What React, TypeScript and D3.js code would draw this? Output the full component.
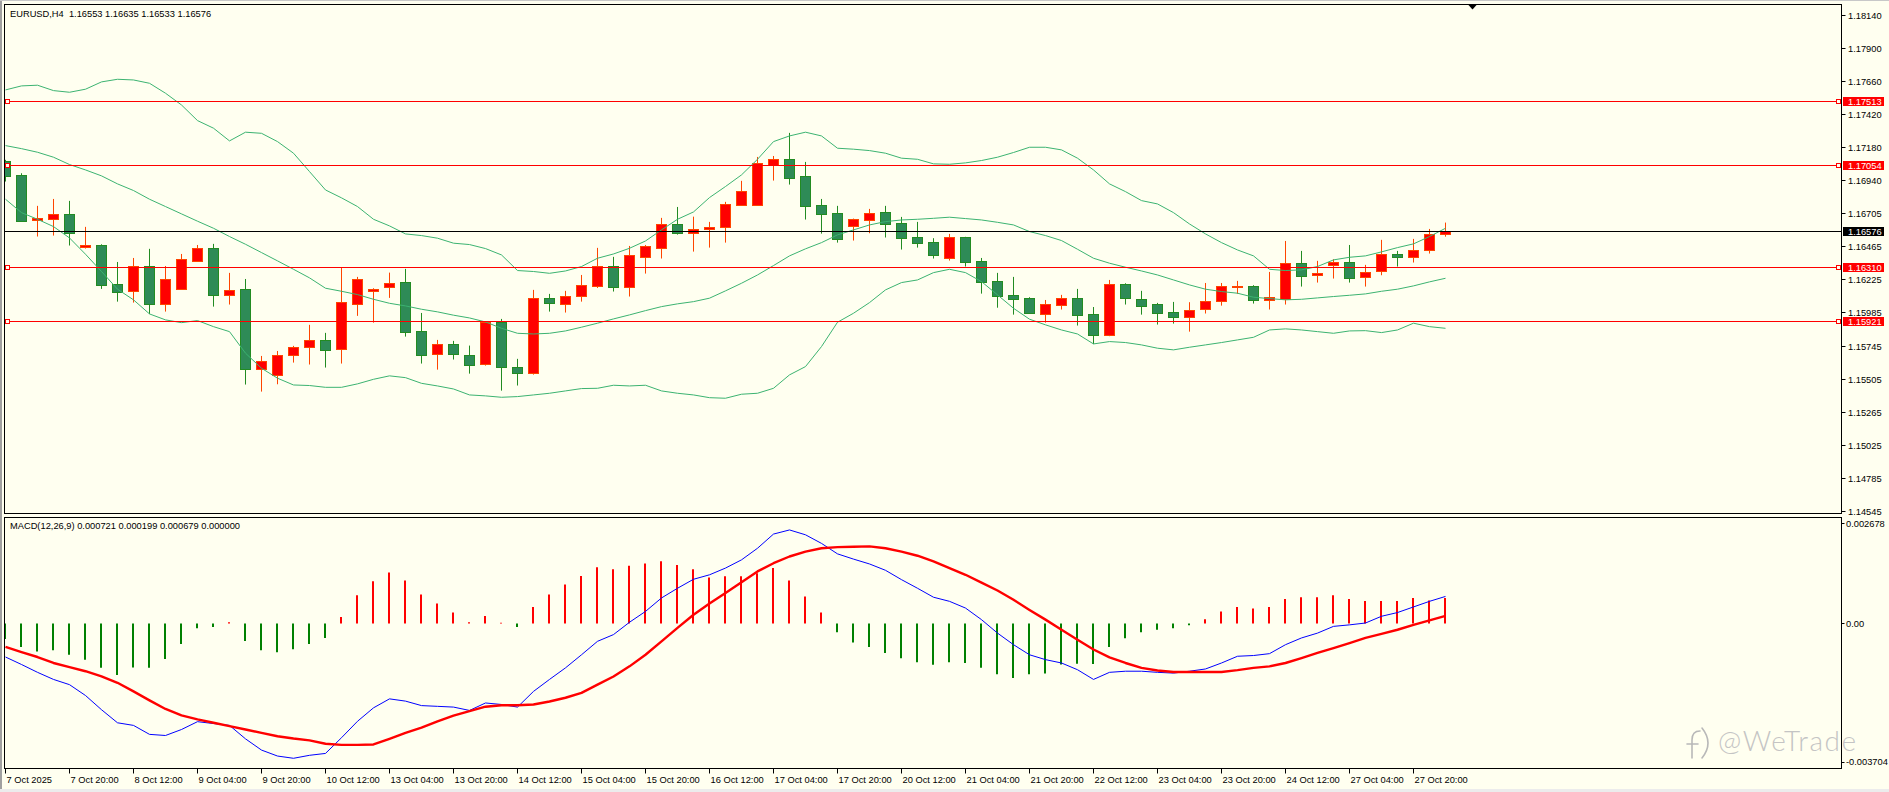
import React from "react";
import * as d3 from "d3";

const WIDTH = 1889;
const HEIGHT = 792;
const FONT = "'Liberation Sans', Arial, sans-serif";
const BG = "#fffff0";

// x axis labels, one every 4 bars (H4)
const timeLabels = [
  "7 Oct 2025", "7 Oct 20:00", "8 Oct 12:00", "9 Oct 04:00", "9 Oct 20:00", "10 Oct 12:00",
  "13 Oct 04:00", "13 Oct 20:00", "14 Oct 12:00", "15 Oct 04:00", "15 Oct 20:00", "16 Oct 12:00",
  "17 Oct 04:00", "17 Oct 20:00", "20 Oct 12:00", "21 Oct 04:00", "21 Oct 20:00", "22 Oct 12:00",
  "23 Oct 04:00", "23 Oct 20:00", "24 Oct 12:00", "27 Oct 04:00", "27 Oct 20:00",
];
const priceTicks = [
  "1.18140", "1.17900", "1.17660", "1.17420", "1.17180", "1.16940", "1.16705", "1.16465",
  "1.16225", "1.15985", "1.15745", "1.15505", "1.15265", "1.15025", "1.14785", "1.14545",
];
const macdTicks = ["0.002678", "0.00", "-0.003704"];

const levelLines = [1.17513, 1.17054, 1.1631, 1.15921];
const bidPrice = 1.16576;

// EURUSD H4, 7 Oct 04:00 .. 28 Oct 04:00
const opens = [
  1.17079, 1.16978, 1.16652, 1.16664, 1.16695, 1.16461, 1.16473, 1.16191, 1.16143, 1.16319,
  1.16049, 1.16157, 1.1636, 1.16449, 1.16114, 1.16153, 1.15579, 1.1553, 1.15675, 1.15733,
  1.15784, 1.15718, 1.16049, 1.16138, 1.16167, 1.16203, 1.15849, 1.15682, 1.15755, 1.15675,
  1.1561, 1.15916, 1.15588, 1.1555, 1.16088, 1.16044, 1.16102, 1.16179, 1.16319, 1.16172,
  1.16389, 1.16454, 1.16623, 1.16558, 1.16587, 1.16601, 1.16765, 1.16765, 1.17055, 1.17093,
  1.1697, 1.1676, 1.16703, 1.16609, 1.16657, 1.1671, 1.1663, 1.16529, 1.16493, 1.16382,
  1.16529, 1.16355, 1.16211, 1.16109, 1.16088, 1.15972, 1.16042, 1.16088, 1.15972, 1.15825,
  1.16189, 1.1608, 1.16044, 1.15986, 1.15955, 1.16008, 1.16066, 1.16172, 1.16174, 1.16073,
  1.16085, 1.16341, 1.16254, 1.16326, 1.16348, 1.16244, 1.16283, 1.16406, 1.16384, 1.16435,
  1.16553,
];
const highs = [
  1.17089, 1.16992, 1.16756, 1.16806, 1.16792, 1.16604, 1.16478, 1.1635, 1.16379, 1.16445,
  1.16321, 1.16408, 1.16473, 1.16481, 1.16271, 1.16227, 1.1567, 1.15706, 1.15743, 1.15895,
  1.15837, 1.16312, 1.16242, 1.1616, 1.16273, 1.163, 1.15981, 1.15786, 1.15779, 1.15745,
  1.15921, 1.15938, 1.15649, 1.16148, 1.16119, 1.16141, 1.16256, 1.16452, 1.16387, 1.16466,
  1.16473, 1.16669, 1.16748, 1.16678, 1.1664, 1.16785, 1.16937, 1.1711, 1.17117, 1.17284,
  1.17074, 1.16806, 1.16756, 1.16664, 1.16734, 1.16756, 1.16676, 1.1664, 1.16522, 1.16553,
  1.16532, 1.16379, 1.16271, 1.16242, 1.16095, 1.16075, 1.16112, 1.16155, 1.16024, 1.1622,
  1.16196, 1.16141, 1.16054, 1.16061, 1.16059, 1.16198, 1.16198, 1.16213, 1.16182, 1.16278,
  1.16502, 1.1643, 1.16358, 1.1637, 1.16473, 1.16329, 1.1651, 1.1643, 1.16517, 1.16589,
  1.16635,
];
const lows = [
  1.16932, 1.16642, 1.16534, 1.16541, 1.16469, 1.16447, 1.16155, 1.16063, 1.16056, 1.15974,
  1.15991, 1.16155, 1.16358, 1.16027, 1.16042, 1.15463, 1.15412, 1.15465, 1.15622, 1.15608,
  1.15586, 1.15615, 1.1596, 1.15911, 1.1609, 1.1581, 1.15615, 1.15571, 1.15644, 1.15542,
  1.156, 1.15419, 1.15456, 1.15535, 1.15991, 1.15984, 1.16063, 1.16162, 1.16136, 1.161,
  1.16266, 1.16375, 1.16548, 1.16425, 1.16454, 1.1649, 1.16756, 1.16762, 1.16939, 1.1691,
  1.16657, 1.16555, 1.1649, 1.16505, 1.16558, 1.16527, 1.1644, 1.16454, 1.16375, 1.1636,
  1.16317, 1.16121, 1.16019, 1.15969, 1.15979, 1.15911, 1.16006, 1.1589, 1.15757, 1.15813,
  1.16042, 1.15969, 1.15897, 1.15904, 1.15846, 1.15977, 1.16034, 1.16119, 1.16049, 1.16006,
  1.16042, 1.16172, 1.16201, 1.1623, 1.16201, 1.16172, 1.16254, 1.16317, 1.16346, 1.16411,
  1.16533,
];
const closes = [
  1.16975, 1.1665, 1.16669, 1.16695, 1.16558, 1.16473, 1.16186, 1.16136, 1.16319, 1.16049,
  1.16225, 1.1637, 1.16449, 1.16114, 1.16145, 1.15579, 1.15632, 1.15675, 1.15733, 1.15784,
  1.15716, 1.16059, 1.16225, 1.16153, 1.16196, 1.15846, 1.1568, 1.15755, 1.15687, 1.15603,
  1.15916, 1.15588, 1.1555, 1.16088, 1.16056, 1.16102, 1.16182, 1.16319, 1.16172, 1.16399,
  1.16464, 1.16623, 1.16558, 1.16587, 1.16601, 1.16768, 1.16862, 1.17064, 1.17093, 1.16961,
  1.16758, 1.167, 1.16514, 1.16659, 1.16703, 1.16628, 1.16527, 1.1649, 1.16403, 1.16529,
  1.16353, 1.16208, 1.16107, 1.16085, 1.15984, 1.16044, 1.16088, 1.15969, 1.15825, 1.16189,
  1.16092, 1.16034, 1.15984, 1.15955, 1.16001, 1.16066, 1.16174, 1.16177, 1.16073, 1.16095,
  1.16341, 1.16252, 1.16268, 1.1635, 1.16237, 1.16276, 1.16406, 1.16384, 1.16435, 1.16551,
  1.16576,
];

// Bollinger bands
const bbUpper = [
  1.17595, 1.17624, 1.17629, 1.1759, 1.17578, 1.176, 1.17653, 1.17672, 1.17667, 1.17643,
  1.17571, 1.17486, 1.17373, 1.17318, 1.17226, 1.17289, 1.17281, 1.17221, 1.17137, 1.17004,
  1.16871, 1.16814, 1.16751, 1.16659, 1.16611, 1.16553, 1.16541, 1.16522, 1.16486, 1.16476,
  1.16447, 1.16401, 1.16288, 1.16281, 1.16268, 1.16285, 1.16317, 1.16377, 1.16408, 1.16449,
  1.16502, 1.16582, 1.16659, 1.16712, 1.16816, 1.16896, 1.1698, 1.17093, 1.17221, 1.17262,
  1.17289, 1.17262, 1.17173, 1.17166, 1.17156, 1.17137, 1.17101, 1.17093, 1.1706, 1.17057,
  1.17067, 1.17084, 1.17108, 1.17142, 1.1718, 1.1718, 1.17161, 1.17101, 1.17016, 1.16915,
  1.16859, 1.16794, 1.1677, 1.16707, 1.16625, 1.16553, 1.1649, 1.16437, 1.16394, 1.16297,
  1.16288, 1.16293, 1.16317, 1.16365, 1.16384, 1.16394, 1.16423, 1.16454, 1.16481, 1.16534,
  1.16594,
];
const bbMiddle = [
  1.17192, 1.1717, 1.17144, 1.17108, 1.17055, 1.17016, 1.16973, 1.16915, 1.16867, 1.16804,
  1.16751, 1.16698, 1.16645, 1.16594, 1.16534, 1.16478, 1.16418, 1.16358, 1.16297, 1.16235,
  1.1616, 1.16138, 1.16114, 1.1608, 1.16051, 1.16032, 1.16008, 1.15989, 1.15965, 1.15945,
  1.15916, 1.1587, 1.15834, 1.15829, 1.15834, 1.15851, 1.15878, 1.15907, 1.15938, 1.15967,
  1.15998, 1.16027, 1.16047, 1.16063, 1.16088, 1.16141, 1.16196, 1.16256, 1.16324, 1.16394,
  1.16445, 1.1649, 1.16546, 1.16582, 1.16618, 1.16642, 1.16654, 1.16659, 1.16666, 1.16674,
  1.16664, 1.16654, 1.16637, 1.16618, 1.1657, 1.16541, 1.16505, 1.16442, 1.16377, 1.16341,
  1.16312, 1.16285, 1.16256, 1.1622, 1.16184, 1.16153, 1.16136, 1.16124, 1.16095, 1.16085,
  1.16076, 1.1608, 1.1609, 1.161, 1.16109, 1.16119, 1.16138, 1.16153, 1.16177, 1.16206,
  1.16232,
];
const bbLower = [
  1.16804, 1.16707, 1.16659, 1.16606, 1.16524, 1.16406, 1.16281, 1.16153, 1.16076, 1.15974,
  1.15931, 1.15911, 1.15926, 1.15882, 1.15846, 1.1569, 1.15581, 1.15509, 1.1546, 1.15456,
  1.15443, 1.15443, 1.15468, 1.15501, 1.15526, 1.15513, 1.15472, 1.15453, 1.15431, 1.15388,
  1.15381, 1.15371, 1.15376, 1.15388, 1.154, 1.15417, 1.15434, 1.15436, 1.15458, 1.15453,
  1.15458, 1.15417, 1.154, 1.15388, 1.15368, 1.15364, 1.15393, 1.154, 1.15436, 1.15533,
  1.15593, 1.15738, 1.15914, 1.15979, 1.16056, 1.16148, 1.16201, 1.1622, 1.16273, 1.16297,
  1.16273, 1.16208, 1.16112, 1.16015, 1.15936, 1.15895, 1.15858, 1.15829, 1.15757, 1.15774,
  1.15767, 1.1575, 1.15726, 1.15714, 1.15733, 1.1575, 1.15767, 1.15786, 1.15805, 1.15858,
  1.15866, 1.15858, 1.15846, 1.15834, 1.15851, 1.15853, 1.15839, 1.15858, 1.15907, 1.15882,
  1.1587,
];

// MACD(12,26,9)
const macdHist = [
  -0.00042, -0.00063, -0.00075, -0.00072, -0.00084, -0.00097, -0.00119, -0.00138, -0.00118, -0.00119,
  -0.00095, -0.00055, -0.00013, -0.0001, 0.00003, -0.00047, -0.00072, -0.00077, -0.00069, -0.00055,
  -0.00039, 0.00017, 0.00075, 0.00113, 0.00136, 0.00115, 0.00077, 0.00053, 0.00029, 0.00003,
  0.0002, 0.00002, -0.0001, 0.00044, 0.00077, 0.00104, 0.00127, 0.0015, 0.00145, 0.00154,
  0.0016, 0.00166, 0.00156, 0.00145, 0.00123, 0.00126, 0.00126, 0.00134, 0.00148, 0.00115,
  0.00072, 0.00029, -0.00024, -0.00051, -0.00063, -0.00079, -0.00093, -0.00104, -0.00111, -0.00104,
  -0.00106, -0.00119, -0.00136, -0.00146, -0.00136, -0.00134, -0.0011, -0.00108, -0.00109, -0.00063,
  -0.0004, -0.00024, -0.00017, -0.00013, -0.00005, 0.00011, 0.00032, 0.00044, 0.0004, 0.00044,
  0.00065, 0.0007, 0.0007, 0.00075, 0.00065, 0.0006, 0.0006, 0.0006, 0.00068, 0.00061,
  0.000679,
];
const macdMain = [
  -0.0009, -0.0011, -0.00131, -0.0015, -0.00164, -0.00193, -0.00231, -0.00266, -0.00273, -0.00297,
  -0.003, -0.00284, -0.00263, -0.00268, -0.00273, -0.00309, -0.00339, -0.00355, -0.00361, -0.00353,
  -0.00348, -0.00306, -0.00262, -0.00226, -0.00202, -0.00208, -0.0022, -0.00222, -0.00224, -0.00233,
  -0.00213, -0.00217, -0.00224, -0.00182, -0.0015, -0.00119, -0.00084, -0.00048, -0.0003, 0.00003,
  0.00032, 0.00068, 0.00094, 0.00118, 0.0013, 0.00148, 0.0017, 0.00201, 0.00239, 0.0025,
  0.00237, 0.00214, 0.00186, 0.00172, 0.00159, 0.00142, 0.00117, 0.00094, 0.0007, 0.00059,
  0.00041, 0.0001, -0.00026, -0.00057, -0.00084, -0.00097, -0.00106, -0.00124, -0.0015, -0.00131,
  -0.00128, -0.00128, -0.00131, -0.00133, -0.00128, -0.00122, -0.00106, -0.00088, -0.00086, -0.00081,
  -0.00057, -0.00039, -0.00026, -0.00008, -0.00004, 0.00001, 0.00019, 0.00029, 0.00044, 0.00059,
  0.000721,
];
const macdSignal = [
  -0.00063, -0.00077, -0.0009, -0.00106, -0.00117, -0.00128, -0.00142, -0.00159, -0.00182, -0.00206,
  -0.00229, -0.00246, -0.00257, -0.00266, -0.00275, -0.00284, -0.00293, -0.00302, -0.00308, -0.00313,
  -0.00322, -0.00325, -0.00325, -0.00324, -0.00309, -0.00293, -0.00279, -0.00262, -0.00247, -0.00235,
  -0.00223, -0.00219, -0.00219, -0.00217, -0.00209, -0.00199, -0.00186, -0.00164, -0.00142, -0.00115,
  -0.00084, -0.00048, -0.00012, 0.00023, 0.00053, 0.00081, 0.0011, 0.00139, 0.00161, 0.00179,
  0.00192, 0.00201, 0.00204, 0.00205, 0.00206, 0.00201, 0.00192, 0.00181, 0.00166, 0.00148,
  0.0013, 0.00109, 0.00088, 0.00063, 0.00036, 0.0001, -0.00017, -0.00044, -0.0007, -0.00091,
  -0.00106, -0.00119, -0.00126, -0.0013, -0.0013, -0.0013, -0.0013, -0.00125, -0.00119, -0.00115,
  -0.00106, -0.00093, -0.00079, -0.00066, -0.00053, -0.00039, -0.00028, -0.00017, -0.00004, 0.00008,
  0.000199,
];

const frame = {
  left: 4.5,
  right: 1841.5,
  mainTop: 4.5,
  mainBottom: 513.5,
  macdTop: 517.5,
  macdBottom: 768.5,
};

const x = d3.scaleLinear().domain([0, 1]).range([5.5, 21.5]);
const y = d3.scaleLinear().domain([1.1453, 1.18213]).range([frame.mainBottom, frame.mainTop]);
const ym = d3.scaleLinear().domain([-0.003704, 0.002678]).range([761.8, 523.3]);

const priceLine = d3.line<number>().x((_, i) => x(i)).y((d) => y(d));
const macdLine = d3.line<number>().x((_, i) => x(i)).y((d) => ym(d));

const crisp = (v: number) => Math.round(v) + 0.5;
const last = closes.length - 1;

export default function App() {
  const title = `EURUSD,H4  ${opens[last].toFixed(5)} ${highs[last].toFixed(5)} ${lows[last].toFixed(5)} ${closes[last].toFixed(5)}`;
  const macdTitle = `MACD(12,26,9) ${macdMain[last].toFixed(6)} ${macdSignal[last].toFixed(6)} ${macdHist[last].toFixed(6)} 0.000000`;
  const triX = x(last) + 27;

  return (
    <div style={{ position: "fixed", left: 0, top: 0 }}>
      <svg width={WIDTH} height={HEIGHT} style={{ display: "block", fontFamily: FONT }}>
        <defs>
          <clipPath id="mainClip">
            <rect x={frame.left} y={frame.mainTop} width={frame.right - frame.left} height={frame.mainBottom - frame.mainTop} />
          </clipPath>
          <clipPath id="macdClip">
            <rect x={frame.left} y={frame.macdTop} width={frame.right - frame.left} height={frame.macdBottom - frame.macdTop} />
          </clipPath>
        </defs>
        <rect width={WIDTH} height={HEIGHT} fill={BG} />
        <rect x={0} y={0} width={2} height={HEIGHT} fill="#a0a0a0" />
        <rect x={0} y={0} width={WIDTH} height={1} fill="#c8c8c8" />
        <rect x={0} y={789} width={WIDTH} height={3} fill="#ececec" />

        {/* main chart */}
        <g clipPath="url(#mainClip)">
          {opens.map((o, i) => {
            const c = closes[i];
            const up = c >= o;
            const cx = x(i);
            const yTop = crisp(y(Math.max(o, c)));
            let yBot = crisp(y(Math.min(o, c)));
            if (yBot - yTop < 1) yBot = yTop + 1;
            const edge = up ? "#ff4500" : "#228b22";
            return (
              <g key={i}>
                <line x1={cx} x2={cx} y1={y(highs[i])} y2={y(lows[i])} stroke={edge} strokeWidth={1} />
                <rect x={cx - 5} y={yTop} width={10} height={yBot - yTop} fill={up ? "#ff0000" : "#2e8b57"} stroke={edge} strokeWidth={1} />
              </g>
            );
          })}
          {[bbUpper, bbMiddle, bbLower].map((band, k) => (
            <path key={k} d={priceLine(band) || ""} fill="none" stroke="#3cb371" strokeWidth={1} />
          ))}
          {levelLines.map((p) => (
            <g key={p}>
              <line x1={frame.left} x2={frame.right} y1={crisp(y(p))} y2={crisp(y(p))} stroke="#ff0000" strokeWidth={1} />
              <rect x={5.5} y={crisp(y(p)) - 2} width={4} height={4} fill={BG} stroke="#ff0000" />
              <rect x={1836.5} y={crisp(y(p)) - 2} width={4} height={4} fill={BG} stroke="#ff0000" />
            </g>
          ))}
          <line x1={frame.left} x2={frame.right} y1={crisp(y(bidPrice))} y2={crisp(y(bidPrice))} stroke="#000" strokeWidth={1} />
          <path d={`M${triX - 4.5},${frame.mainTop} L${triX + 4.5},${frame.mainTop} L${triX},${frame.mainTop + 5} Z`} fill="#000" />
        </g>
        <rect x={frame.left} y={frame.mainTop} width={frame.right - frame.left} height={frame.mainBottom - frame.mainTop} fill="none" stroke="#000" />
        <text x={10} y={16.5} fontSize={9.3} fill="#000" style={{ whiteSpace: "pre" }}>{title}</text>

        {/* price axis */}
        {priceTicks.map((t) => {
          const ty = crisp(y(+t));
          return (
            <g key={t}>
              <line x1={frame.right} x2={frame.right + 4} y1={ty} y2={ty} stroke="#000" />
              <text x={1848} y={ty + 3.3} fontSize={9.3} fill="#000">{t}</text>
            </g>
          );
        })}
        {levelLines.map((p) => (
          <g key={p}>
            <rect x={1843} y={crisp(y(p)) - 4.5} width={41} height={9} fill="#ff0000" />
            <text x={1848} y={crisp(y(p)) + 3.3} fontSize={9.3} fill="#fff">{p.toFixed(5)}</text>
          </g>
        ))}
        <rect x={1843} y={crisp(y(bidPrice)) - 4.5} width={41} height={9} fill="#000" />
        <text x={1848} y={crisp(y(bidPrice)) + 3.3} fontSize={9.3} fill="#fff">{bidPrice.toFixed(5)}</text>

        {/* MACD window */}
        <g clipPath="url(#macdClip)">
          {macdHist.map((h, i) => (
            <line
              key={i}
              x1={Math.floor(x(i))}
              x2={Math.floor(x(i))}
              y1={ym(0)}
              y2={ym(h)}
              stroke={h >= 0 ? "#ff0000" : "#008000"}
              strokeWidth={2}
            />
          ))}
          <path d={macdLine(macdMain) || ""} fill="none" stroke="#0000ff" strokeWidth={1} />
          <path d={macdLine(macdSignal) || ""} fill="none" stroke="#ff0000" strokeWidth={2.4} strokeLinejoin="round" />
        </g>
        <rect x={frame.left} y={frame.macdTop} width={frame.right - frame.left} height={frame.macdBottom - frame.macdTop} fill="none" stroke="#000" />
        <text x={10} y={528.5} fontSize={9.3} fill="#000">{macdTitle}</text>
        {macdTicks.map((t) => {
          const ty = ym(+t);
          return (
            <g key={t}>
              <line x1={frame.right} x2={frame.right + 3} y1={crisp(ty)} y2={crisp(ty)} stroke="#000" />
              <text x={1846} y={ty + 3.3} fontSize={9.3} fill="#000">{t}</text>
            </g>
          );
        })}

        {/* time axis */}
        {timeLabels.map((t, k) => {
          const tx = Math.floor(x(k * 4)) + 0.5;
          return (
            <g key={t}>
              <line x1={tx} x2={tx} y1={frame.macdBottom} y2={frame.macdBottom + 5} stroke="#000" />
              <text x={tx + 1} y={783} fontSize={9.3} fill="#000">{t}</text>
            </g>
          );
        })}

        {/* watermark */}
        <g fill="none" stroke="#b8b8b8" strokeWidth={1.6} strokeLinecap="round">
          <path d="M1692,758 L1692,740 Q1692,731 1700,731" />
          <path d="M1687,744 L1698,744" />
          <path d="M1702,728 Q1714,743 1702,758" />
        </g>
        <text x={1718} y={751} fontSize={28} letterSpacing={1.5} fontFamily="Lato, 'Open Sans', sans-serif" fontWeight={300} fill="#c4c4c4">@WeTrade</text>
      </svg>
    </div>
  );
}
